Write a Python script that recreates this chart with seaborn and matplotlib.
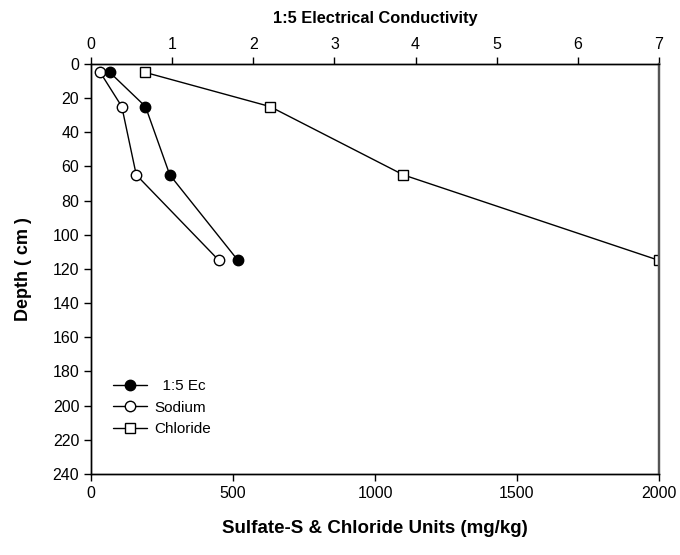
import pandas as pd
import seaborn as sns
import matplotlib.pyplot as plt
from matplotlib.lines import Line2D

# depths (cm)
depth = [5, 25, 65, 115]
# 1:5 electrical conductivity (top axis)
ec = [0.23, 0.67, 0.97, 1.81]
# mg/kg (bottom axis)
sodium = [32, 108, 159, 450]
chloride = [190, 630, 1100, 2000]

sns.set_style("ticks")
plt.rcParams['font.family'] = ['Liberation Sans', 'DejaVu Sans']
plt.rcParams['text.color'] = 'black'
plt.rcParams['axes.labelcolor'] = 'black'
plt.rcParams['xtick.color'] = 'black'
plt.rcParams['ytick.color'] = 'black'

fig = plt.figure(figsize=(6.8, 5.55), dpi=100)
ax = fig.add_axes([0.134, 0.146, 0.835, 0.739])

df = pd.DataFrame({"depth": depth, "ec": ec, "sodium": sodium, "chloride": chloride})

sns.lineplot(data=df, x="sodium", y="depth", sort=False, estimator=None, ax=ax,
             color="black", lw=1, marker="o", markersize=7.5, markerfacecolor="white",
             markeredgecolor="black", markeredgewidth=1)
sns.lineplot(data=df, x="chloride", y="depth", sort=False, estimator=None, ax=ax,
             color="black", lw=1, marker="s", markersize=7.5, markerfacecolor="white",
             markeredgecolor="black", markeredgewidth=1)

ax.set_xlim(0, 2000)
ax.set_ylim(240, 0)
ax.set_xticks([0, 500, 1000, 1500, 2000])
ax.set_yticks(range(0, 241, 20))
ax.set_xlabel("Sulfate-S & Chloride Units (mg/kg)", fontsize=13.5, fontweight="bold", labelpad=14)
ax.set_ylabel("Depth ( cm )", fontsize=13, fontweight="bold", labelpad=15)

ax2 = ax.twiny()
sns.lineplot(data=df, x="ec", y="depth", sort=False, estimator=None, ax=ax2,
             color="black", lw=1, marker="o", markersize=7.5, markerfacecolor="black",
             markeredgecolor="black", markeredgewidth=1)
ax2.set_xlim(0, 7)
ax2.set_ylim(240, 0)
ax2.set_xticks(range(0, 8))
ax2.set_xlabel("1:5 Electrical Conductivity", fontsize=11.8, fontweight="bold", labelpad=10)

for a in (ax, ax2):
    a.tick_params(labelsize=11.5, length=5, width=1, color="black", labelcolor="black",
                  direction="out")
    for s in a.spines.values():
        s.set_color("black")
        s.set_linewidth(1)
    a.spines["right"].set_color("#555555")
    a.spines["right"].set_linewidth(1.6)
    a.spines["right"].set_visible(True)
    a.spines["top"].set_visible(True)

handles = [
    Line2D([], [], color="black", lw=1, marker="o", markersize=7.5,
           markerfacecolor="black", markeredgecolor="black"),
    Line2D([], [], color="black", lw=1, marker="o", markersize=7.5,
           markerfacecolor="white", markeredgecolor="black"),
    Line2D([], [], color="black", lw=1, marker="s", markersize=7.5,
           markerfacecolor="white", markeredgecolor="black"),
]
ax2.legend(handles, ["  1:5 Ec", "Sodium", "Chloride"], loc="upper left",
           bbox_to_anchor=(0.0145, 0.265), frameon=False, fontsize=11,
           handlelength=2.2, handletextpad=0.5, labelspacing=0.5)

plt.savefig("out.png", dpi=100)
